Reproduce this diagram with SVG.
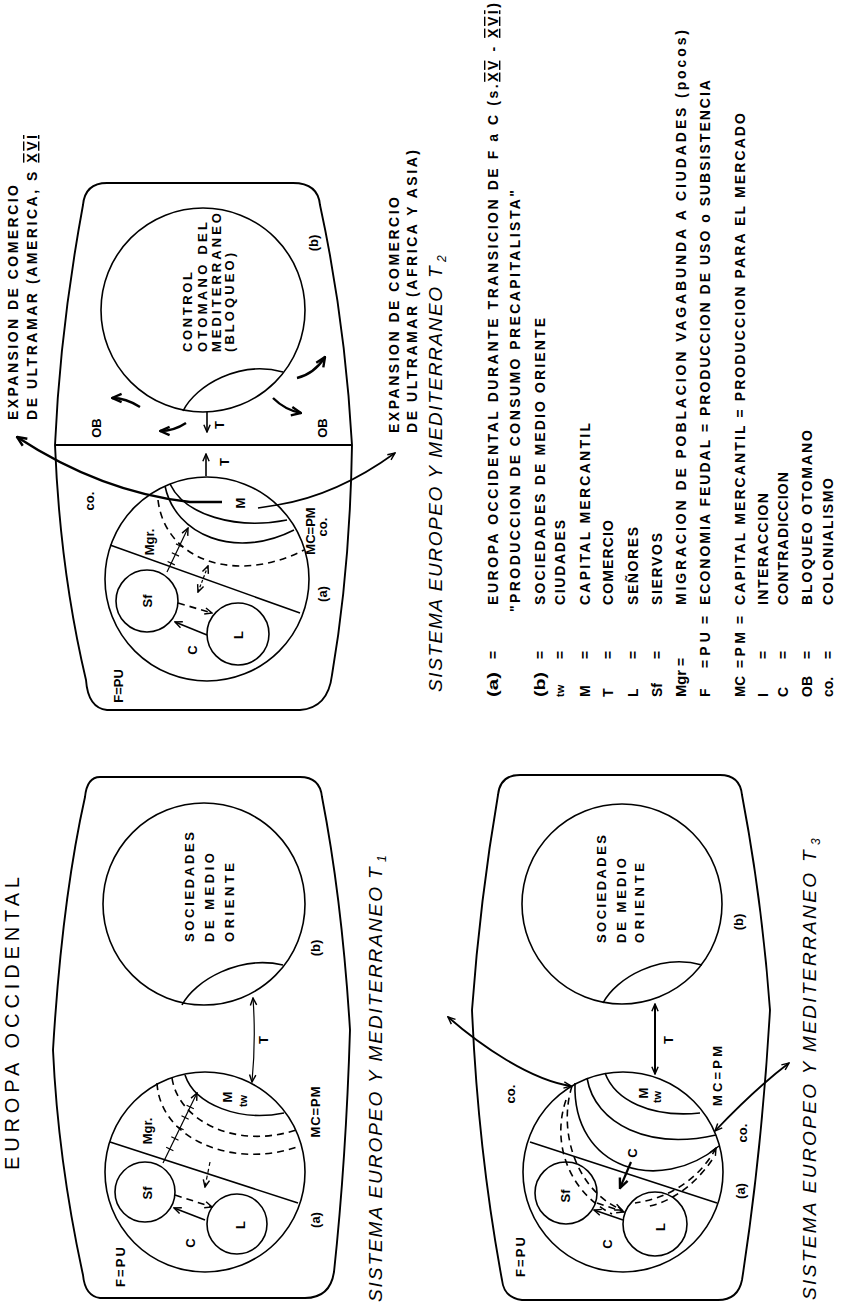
<svg xmlns="http://www.w3.org/2000/svg" width="841" height="1305" viewBox="0 0 841 1305">
<defs>
<style>
.t{font-family:'Liberation Sans',Arial,sans-serif;font-weight:bold;fill:#000}
.lg{font-size:14px}
.sm{font-size:13px}
.xs{font-size:11px}
.ex{font-size:14px}
.ttl{font-weight:normal;font-style:italic;font-size:19px}
.ln{fill:none;stroke:#000;stroke-width:1.6}
.fr{fill:none;stroke:#000;stroke-width:1.9}
.th{fill:none;stroke:#000;stroke-width:1.2}
.bk{fill:none;stroke:#000;stroke-width:2.4}
.ds{stroke-dasharray:7 5}
.ov{text-decoration:overline underline}
</style>
<marker id="ah" viewBox="0 0 10 10" refX="9" refY="5" markerWidth="9" markerHeight="9" markerUnits="userSpaceOnUse" orient="auto-start-reverse"><path d="M1,1.5 L9,5 L1,8.5" fill="none" stroke="#000" stroke-width="1.6"/></marker>
<marker id="ahb" viewBox="0 0 10 10" refX="9" refY="5" markerWidth="12" markerHeight="12" markerUnits="userSpaceOnUse" orient="auto-start-reverse"><path d="M1,1.5 L9,5 L1,8.5" fill="none" stroke="#000" stroke-width="2"/></marker>
</defs>
<rect width="841" height="1305" fill="#fff"/>

<g id="page-title">
<text class="t" style="font-weight:normal;font-size:20px" transform="translate(19,1170) rotate(-90)" textLength="293" lengthAdjust="spacing">EUROPA OCCIDENTAL</text>
</g>

<!-- ===== T2 ===== -->
<g id="t2-frame">
<path class="fr" d="M107,183 L293,183 Q318,183 320,205 Q345,320 352,445 Q350,570 332,675 Q328,708 300,710 L107,710 Q88,708 86,680 Q60,570 55,445 Q60,330 83,205 Q85,183 107,183 Z"/>
<line class="fr" x1="55" y1="445" x2="352" y2="445"/>
<text class="t sm" text-anchor="middle" transform="translate(100.5,428) rotate(-90)">OB</text>
<text class="t sm" text-anchor="middle" transform="translate(326.5,428) rotate(-90)">OB</text>
<text class="t sm" text-anchor="middle" transform="translate(93.5,501) rotate(-90)">co.</text>
<text class="t sm" text-anchor="middle" transform="translate(314.5,531) rotate(-90)">MC=PM</text>
<text class="t sm" text-anchor="middle" transform="translate(326.5,527) rotate(-90)">co.</text>
<text class="t sm" text-anchor="middle" transform="translate(122.5,686) rotate(-90)">F=PU</text>
<text class="t sm" text-anchor="middle" transform="translate(326.5,594) rotate(-90)">(a)</text>
<text class="t sm" text-anchor="middle" transform="translate(317.5,243) rotate(-90)">(b)</text>
<text class="t sm" text-anchor="middle" transform="translate(223.5,425) rotate(-90)">T</text>
<text class="t sm" text-anchor="middle" transform="translate(228.5,462) rotate(-90)">T</text>
</g>
<g id="t2-b">
<circle class="ln" cx="203" cy="310" r="102"/>
<path class="ln" d="M183,411 C196,385 240,360 283,372"/>
<text class="t sm" transform="translate(191.5,352) rotate(-90)" textLength="80" lengthAdjust="spacing">CONTROL</text>
<text class="t sm" transform="translate(206.5,352) rotate(-90)" textLength="130" lengthAdjust="spacing">OTOMANO DEL</text>
<text class="t sm" transform="translate(220.5,352) rotate(-90)" textLength="139" lengthAdjust="spacing">MEDITERRANEO</text>
<text class="t sm" transform="translate(233.5,352) rotate(-90)" textLength="99" lengthAdjust="spacing">(BLOQUEO)</text>
</g>
<g id="t2-a">
<circle class="ln" cx="207" cy="579" r="102"/>
<line class="ln" x1="110" y1="545" x2="300" y2="613"/>
<path class="ln" d="M170,484 C185,515 235,530 287,520"/>
<path class="ln" d="M165,486 C175,535 235,560 294,530"/>
<path class="ln ds" d="M158,500 C165,560 235,585 304,550"/>
<text class="t sm" text-anchor="middle" transform="translate(153.5,542) rotate(-90)">Mgr.</text>
<text class="t sm" text-anchor="middle" transform="translate(244.5,503) rotate(-90)">M</text>
</g>
<g id="t2-sf"><circle class="ln" cx="147" cy="601" r="31"/><text class="t sm" text-anchor="middle" transform="translate(151.5,601) rotate(-90)">Sf</text></g>
<g id="t2-l"><circle class="ln" cx="238" cy="634" r="31"/><text class="t sm" text-anchor="middle" transform="translate(242.5,635) rotate(-90)">L</text></g>
<g id="t2-labels">
<text class="t sm" text-anchor="middle" transform="translate(196.5,650) rotate(-90)">C</text>
<text class="t ex" transform="translate(18,420) rotate(-90)" textLength="235" lengthAdjust="spacing">EXPANSION DE COMERCIO</text>
<text class="t ex" transform="translate(37,420) rotate(-90)" textLength="285" lengthAdjust="spacing">DE ULTRAMAR (AMERICA, S <tspan class="ov">XVI</tspan></text>
<text class="t ex" transform="translate(399,433) rotate(-90)" textLength="236" lengthAdjust="spacing">EXPANSION DE COMERCIO</text>
<text class="t ex" transform="translate(417,433) rotate(-90)" textLength="283" lengthAdjust="spacing">DE ULTRAMAR (AFRICA Y ASIA)</text>
<text class="t ttl" transform="translate(442,692) rotate(-90)" textLength="405" lengthAdjust="spacing">SISTEMA EUROPEO Y MEDITERRANEO</text>
<text class="t ttl" transform="translate(442,278) rotate(-90)">T</text>
<text class="t ttl" style="font-size:12px" transform="translate(446,262) rotate(-90)">2</text>
</g>

<!-- ===== T1 ===== -->
<g id="t1-frame">
<path class="fr" d="M100,777 L300,777 Q320,777 322,797 Q342,900 350,1030 Q346,1160 334,1272 Q330,1298 305,1298 L100,1298 Q85,1296 83,1275 Q58,1160 53,1050 Q62,900 85,797 Q87,777 100,777 Z"/>
<text class="t sm" text-anchor="middle" transform="translate(319.5,948) rotate(-90)">(b)</text>
<text class="t sm" text-anchor="middle" transform="translate(267.5,1040) rotate(-90)">T</text>
<text class="t sm" text-anchor="middle" transform="translate(319.5,1112) rotate(-90)" textLength="51" lengthAdjust="spacing">MC=PM</text>
<text class="t sm" text-anchor="middle" transform="translate(124.5,1267) rotate(-90)" textLength="40" lengthAdjust="spacing">F=PU</text>
<text class="t sm" text-anchor="middle" transform="translate(319.5,1220) rotate(-90)">(a)</text>
<text class="t ttl" transform="translate(382,1302) rotate(-90)" textLength="415" lengthAdjust="spacing">SISTEMA EUROPEO Y MEDITERRANEO</text>
<text class="t ttl" transform="translate(382,879) rotate(-90)">T</text>
<text class="t ttl" style="font-size:12px" transform="translate(386,862) rotate(-90)">1</text>
</g>
<g id="t1-b">
<circle class="ln" cx="204" cy="904" r="101"/>
<path class="ln" d="M182,1005 C195,980 240,955 283,965"/>
<text class="t sm" transform="translate(193.5,942) rotate(-90)" textLength="110" lengthAdjust="spacing">SOCIEDADES</text>
<text class="t sm" transform="translate(213.5,942) rotate(-90)" textLength="89" lengthAdjust="spacing">DE MEDIO</text>
<text class="t sm" transform="translate(233.5,942) rotate(-90)" textLength="79" lengthAdjust="spacing">ORIENTE</text>
</g>
<g id="t1-a">
<circle class="ln" cx="205" cy="1172" r="100"/>
<line class="ln" x1="110" y1="1142" x2="298" y2="1203"/>
<path class="ln" d="M185,1075 C195,1105 240,1122 284,1113"/>
<path class="ln ds" d="M172,1078 C178,1120 235,1150 296,1130"/>
<path class="ln ds" d="M157,1083 C160,1140 235,1170 300,1146"/>
<text class="t sm" text-anchor="middle" transform="translate(151.5,1131) rotate(-90)">Mgr.</text>
<text class="t sm" text-anchor="middle" transform="translate(231.5,1097) rotate(-90)">M</text>
<text class="t xs" text-anchor="middle" transform="translate(247,1101) rotate(-90)">tw</text>
</g>
<g id="t1-sf"><circle class="ln" cx="145" cy="1192" r="30"/><text class="t sm" text-anchor="middle" transform="translate(151.5,1193) rotate(-90)">Sf</text></g>
<g id="t1-l"><circle class="ln" cx="237" cy="1224" r="30"/><text class="t sm" text-anchor="middle" transform="translate(244.5,1225) rotate(-90)">L</text></g>
<g id="t1-labels"><text class="t sm" text-anchor="middle" transform="translate(194.5,1243) rotate(-90)">C</text></g>

<!-- ===== T3 ===== -->
<g id="t3-frame">
<path class="fr" d="M520,775 L720,775 Q740,775 742,795 Q762,900 770,1010 Q762,1150 742,1280 Q738,1300 718,1300 L522,1300 Q504,1298 502,1280 Q478,1150 472,1010 Q480,900 498,795 Q500,775 520,775 Z"/>
<text class="t sm" text-anchor="middle" transform="translate(742.5,922) rotate(-90)">(b)</text>
<text class="t sm" text-anchor="middle" transform="translate(672.5,1040) rotate(-90)">T</text>
<text class="t sm" text-anchor="middle" transform="translate(514.5,1094) rotate(-90)">co.</text>
<text class="t sm" text-anchor="middle" transform="translate(721.5,1076) rotate(-90)" textLength="60" lengthAdjust="spacing">MC=PM</text>
<text class="t sm" text-anchor="middle" transform="translate(746.5,1133) rotate(-90)">co.</text>
<text class="t sm" text-anchor="middle" transform="translate(744.5,1191) rotate(-90)">(a)</text>
<text class="t sm" text-anchor="middle" transform="translate(524.5,1257) rotate(-90)" textLength="40" lengthAdjust="spacing">F=PU</text>
<text class="t ttl" transform="translate(816,1300) rotate(-90)" textLength="427" lengthAdjust="spacing">SISTEMA EUROPEO Y MEDITERRANEO</text>
<text class="t ttl" transform="translate(816,862) rotate(-90)">T</text>
<text class="t ttl" style="font-size:12px" transform="translate(820,845) rotate(-90)">3</text>
</g>
<g id="t3-b">
<circle class="ln" cx="622" cy="904" r="100"/>
<path class="ln" d="M603,1003 C616,978 660,953 702,965"/>
<text class="t sm" transform="translate(605.5,943) rotate(-90)" textLength="108" lengthAdjust="spacing">SOCIEDADES</text>
<text class="t sm" transform="translate(625.5,943) rotate(-90)" textLength="85" lengthAdjust="spacing">DE MEDIO</text>
<text class="t sm" transform="translate(643.5,943) rotate(-90)" textLength="80" lengthAdjust="spacing">ORIENTE</text>
</g>
<g id="t3-a">
<circle class="ln" cx="623" cy="1172" r="100"/>
<line class="ln" x1="530" y1="1142" x2="717" y2="1203"/>
<path class="ln" d="M605,1073 C615,1100 650,1118 700,1113"/>
<path class="ln" d="M587,1078 C595,1125 650,1150 716,1135"/>
<path class="ln" d="M575,1083 C572,1170 660,1195 719,1146"/>
<text class="t sm" text-anchor="middle" transform="translate(647.5,1093) rotate(-90)">M</text>
<text class="t xs" text-anchor="middle" transform="translate(661,1097) rotate(-90)">tw</text>
</g>
<g id="t3-sf"><circle class="ln" cx="566" cy="1193" r="31"/><text class="t sm" text-anchor="middle" transform="translate(569.5,1196) rotate(-90)">Sf</text></g>
<g id="t3-l"><circle class="ln" cx="655" cy="1224" r="32"/><text class="t sm" text-anchor="middle" transform="translate(664.5,1227) rotate(-90)">L</text></g>
<g id="t3-labels">
<text class="t sm" text-anchor="middle" transform="translate(636.5,1153) rotate(-90)">C</text>
<text class="t sm" text-anchor="middle" transform="translate(611.5,1244) rotate(-90)">C</text>
</g>

<!-- ===== connectors ===== -->
<g id="connectors">
<!-- T2 -->
<path class="bk" d="M222,502 L190,502 C135,496 75,475 17,437" marker-end="url(#ahb)"/>
<path class="ln" d="M258,508 L277,505 C315,499 355,482 395,453" marker-end="url(#ah)"/>
<path class="ln" d="M206,476 L206,454" marker-end="url(#ah)"/>
<path class="ln" d="M207,412 L207,432" marker-end="url(#ah)"/>
<path class="bk" d="M186,423 Q174,431 160,431" marker-end="url(#ahb)"/>
<path class="bk" d="M140,407 Q126,398 112,398" marker-end="url(#ahb)"/>
<path class="bk" d="M273,398 Q285,410 301,413" marker-end="url(#ahb)"/>
<path class="bk" d="M297,378 Q314,374 325,357" marker-end="url(#ahb)"/>
<path class="ln" d="M207,635 L175,622" marker-end="url(#ah)"/>
<path class="ln ds" d="M178,603 L212,613" marker-end="url(#ah)"/>
<path class="th" d="M167,572 L188,528" marker-end="url(#ah)"/>
<path class="th" d="M167.6,561.5 L174.8,564.9 M171.8,552.7 L179,556.1 M176,543.9 L183.2,547.3"/>
<path class="th" style="stroke-dasharray:3 2" d="M198,592 L208,566" marker-start="url(#ah)" marker-end="url(#ah)"/>
<!-- T1 -->
<path class="th" d="M253,998 Q256,1040 252,1082" marker-start="url(#ah)" marker-end="url(#ah)"/>
<path class="ln" d="M205,1220 L174,1208" marker-end="url(#ah)"/>
<path class="ln ds" d="M175,1195 L212,1207" marker-end="url(#ah)"/>
<path class="th" d="M163,1163 L197,1093" marker-end="url(#ah)"/>
<path class="th" d="M166.2,1147.2 L173.4,1150.8 M171.3,1136.7 L178.5,1140.3 M176.4,1126.2 L183.6,1129.8 M181.5,1115.7 L188.7,1119.3 M186.6,1105.2 L193.8,1108.8"/>
<path class="th" style="stroke-dasharray:4 3" d="M210,1162 L205,1187" marker-end="url(#ah)"/>
<!-- T3 -->
<path class="ln" style="stroke-width:2" d="M655,1004 L655,1074" marker-start="url(#ah)" marker-end="url(#ah)"/>
<path class="ln" style="stroke-width:1.8" d="M448,1017 C480,1045 530,1080 571,1086" marker-start="url(#ah)" marker-end="url(#ah)"/>
<path class="ln" style="stroke-width:1.8" d="M715,1131 C735,1110 760,1085 789,1063" marker-start="url(#ah)" marker-end="url(#ah)"/>
<path class="ln" style="stroke-width:2.2" d="M631,1162 L620,1188" marker-end="url(#ahb)"/>
<path class="ln" d="M623,1220 L594,1210" marker-end="url(#ah)"/>
<path class="ln ds" d="M597,1203 L624,1212" marker-end="url(#ah)"/>
<path class="ln ds" d="M572,1086 C558,1130 575,1190 622,1210" marker-end="url(#ah)"/>
<path class="ln ds" d="M566,1100 C552,1140 566,1190 612,1214"/>
<path class="ln ds" d="M716,1148 C700,1178 670,1198 635,1203" marker-start="url(#ah)"/>
<path class="ln ds" d="M712,1160 C695,1185 670,1203 645,1207"/>
</g>

<!-- ===== legend ===== -->
<g id="legend">
<text class="t lg" transform="translate(498,697) rotate(-90)" textLength="25" lengthAdjust="spacingAndGlyphs">(a)</text>
<text class="t lg" text-anchor="middle" transform="translate(498,655) rotate(-90)">=</text>
<text class="t lg" transform="translate(498,605) rotate(-90)" textLength="602" lengthAdjust="spacing">EUROPA OCCIDENTAL  DURANTE TRANSICION DE F a C (s.<tspan class="ov">XV</tspan> - <tspan class="ov">XVI</tspan>)</text>
<text class="t lg" transform="translate(520,612) rotate(-90)" textLength="422" lengthAdjust="spacing">"PRODUCCION DE CONSUMO PRECAPITALISTA"</text>
<text class="t lg" transform="translate(545,697) rotate(-90)" textLength="25" lengthAdjust="spacingAndGlyphs">(b)</text>
<text class="t lg" text-anchor="middle" transform="translate(545,655) rotate(-90)">=</text>
<text class="t lg" transform="translate(545,605) rotate(-90)" textLength="287" lengthAdjust="spacing">SOCIEDADES DE MEDIO ORIENTE</text>
<text class="t xs" transform="translate(564,697) rotate(-90)">tw</text>
<text class="t lg" text-anchor="middle" transform="translate(565,655) rotate(-90)">=</text>
<text class="t lg" transform="translate(565,605) rotate(-90)" textLength="85" lengthAdjust="spacing">CIUDADES</text>
<text class="t lg" transform="translate(590,697) rotate(-90)">M</text>
<text class="t lg" text-anchor="middle" transform="translate(590,655) rotate(-90)">=</text>
<text class="t lg" transform="translate(590,605) rotate(-90)" textLength="182" lengthAdjust="spacing">CAPITAL MERCANTIL</text>
<text class="t lg" transform="translate(613,697) rotate(-90)">T</text>
<text class="t lg" text-anchor="middle" transform="translate(613,655) rotate(-90)">=</text>
<text class="t lg" transform="translate(613,605) rotate(-90)" textLength="85" lengthAdjust="spacing">COMERCIO</text>
<text class="t lg" transform="translate(638,697) rotate(-90)">L</text>
<text class="t lg" text-anchor="middle" transform="translate(638,655) rotate(-90)">=</text>
<text class="t lg" transform="translate(638,605) rotate(-90)" textLength="78" lengthAdjust="spacing">SEÑORES</text>
<text class="t lg" transform="translate(662,697) rotate(-90)">Sf</text>
<text class="t lg" text-anchor="middle" transform="translate(662,655) rotate(-90)">=</text>
<text class="t lg" transform="translate(662,605) rotate(-90)" textLength="72" lengthAdjust="spacing">SIERVOS</text>
<text class="t lg" transform="translate(686,697) rotate(-90)" textLength="27" lengthAdjust="spacingAndGlyphs">Mgr</text>
<text class="t lg" text-anchor="middle" transform="translate(686,662) rotate(-90)">=</text>
<text class="t lg" transform="translate(686,605) rotate(-90)" textLength="575" lengthAdjust="spacing">MIGRACION DE POBLACION VAGABUNDA A CIUDADES (pocos)</text>
<text class="t lg" transform="translate(710,697) rotate(-90)">F</text>
<text class="t lg" transform="translate(710,668) rotate(-90)" textLength="36" lengthAdjust="spacing">=PU</text>
<text class="t lg" text-anchor="middle" transform="translate(710,620) rotate(-90)">=</text>
<text class="t lg" transform="translate(710,605) rotate(-90)" textLength="525" lengthAdjust="spacing">ECONOMIA FEUDAL = PRODUCCION DE USO o SUBSISTENCIA</text>
<text class="t lg" transform="translate(745,697) rotate(-90)" textLength="21" lengthAdjust="spacingAndGlyphs">MC</text>
<text class="t lg" transform="translate(745,668) rotate(-90)" textLength="36" lengthAdjust="spacing">=PM</text>
<text class="t lg" text-anchor="middle" transform="translate(745,620) rotate(-90)">=</text>
<text class="t lg" transform="translate(745,605) rotate(-90)" textLength="492" lengthAdjust="spacing">CAPITAL MERCANTIL = PRODUCCION PARA EL MERCADO</text>
<text class="t lg" transform="translate(768,697) rotate(-90)">I</text>
<text class="t lg" text-anchor="middle" transform="translate(768,655) rotate(-90)">=</text>
<text class="t lg" transform="translate(768,605) rotate(-90)" textLength="112" lengthAdjust="spacing">INTERACCION</text>
<text class="t lg" transform="translate(788,697) rotate(-90)">C</text>
<text class="t lg" text-anchor="middle" transform="translate(788,655) rotate(-90)">=</text>
<text class="t lg" transform="translate(788,605) rotate(-90)" textLength="133" lengthAdjust="spacing">CONTRADICCION</text>
<text class="t lg" transform="translate(812,697) rotate(-90)">OB</text>
<text class="t lg" text-anchor="middle" transform="translate(812,655) rotate(-90)">=</text>
<text class="t lg" transform="translate(812,605) rotate(-90)" textLength="175" lengthAdjust="spacing">BLOQUEO OTOMANO</text>
<text class="t lg" transform="translate(833,697) rotate(-90)">co.</text>
<text class="t lg" text-anchor="middle" transform="translate(833,655) rotate(-90)">=</text>
<text class="t lg" transform="translate(833,605) rotate(-90)" textLength="127" lengthAdjust="spacing">COLONIALISMO</text>
</g>
</svg>
